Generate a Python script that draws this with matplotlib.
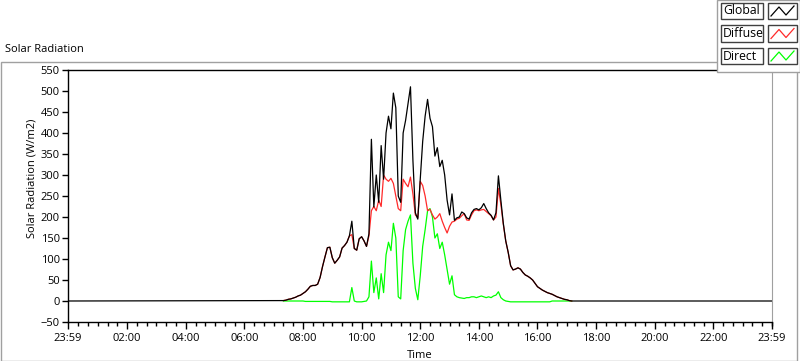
import matplotlib.pyplot as plt
import numpy as np
from matplotlib.patches import Rectangle
from matplotlib.lines import Line2D

# daylight samples, every 5 min from 07:20 to 17:10 (W/m2)
global_rad = ([1, 2, 4, 5, 7, 9, 12, 14] +
              [18, 22, 28, 35, 37, 37, 40, 56, 82, 105, 127, 128] +
              [103, 90, 97, 105, 126, 132, 140, 155, 190, 125, 121, 148] +
              [153, 143, 130, 160, 385, 224, 300, 235, 370, 290, 400, 440] +
              [410, 495, 460, 250, 235, 400, 430, 470, 510, 335, 210, 195] +
              [290, 380, 440, 480, 435, 415, 345, 365, 320, 335, 300, 240] +
              [205, 255, 192, 198, 200, 212, 208, 198, 195, 210, 218, 220] +
              [217, 222, 232, 220, 210, 204, 193, 210, 298, 240, 185, 143] +
              [116, 84, 74, 76, 79, 76, 68, 62, 59, 55, 50, 42] +
              [34, 30, 26, 23, 20, 18, 16, 13, 10, 8, 6, 4] +
              [3, 1, 0])
diffuse_rad = ([1, 2, 4, 5, 7, 9, 12, 14] +
               [18, 22, 28, 35, 37, 37, 40, 56, 82, 105, 127, 128] +
               [103, 90, 97, 105, 126, 132, 140, 155, 158, 125, 121, 148] +
               [153, 143, 130, 155, 215, 225, 215, 240, 225, 300, 290, 285] +
               [292, 280, 250, 220, 215, 290, 280, 272, 295, 255, 205, 198] +
               [285, 275, 250, 215, 218, 205, 195, 200, 208, 190, 175, 162] +
               [178, 188, 190, 195, 197, 203, 208, 193, 192, 205, 215, 217] +
               [215, 217, 218, 213, 208, 203, 193, 200, 268, 230, 183, 143] +
               [116, 84, 74, 76, 79, 76, 68, 62, 59, 55, 50, 42] +
               [34, 30, 26, 23, 20, 18, 16, 13, 10, 8, 6, 4] +
               [3, 1, 0])
direct_rad = ([0, 0, 0, 0, 0, 0, 0, 0] +
              [0, -1, -1, -1, -1, -1, -1, -1, -1, -1, -1, -1] +
              [-2, -2, -2, -2, -2, -2, -2, -2, 32, 0, -2, -2] +
              [-2, -1, 0, 10, 95, 20, 55, 5, 65, 20, 110, 140] +
              [120, 185, 150, 10, 5, 120, 170, 190, 205, 90, 30, 3] +
              [60, 130, 170, 215, 220, 200, 150, 160, 125, 140, 110, 75] +
              [40, 60, 15, 10, 8, 7, 6, 8, 8, 10, 10, 8] +
              [10, 12, 10, 8, 10, 8, 12, 14, 22, 8, 3, 0] +
              [-1, -2, -2, -2, -2, -2, -2, -2, -2, -2, -2, -2] +
              [-2, -2, -2, -2, -2, -2, 0, 0, 0, 0, 0, 0] +
              [0, 0, 0])

t_day = (7 * 60 + 20 + 5 * np.arange(len(global_rad))) / 60.0
t0, t1 = -1 / 60.0, 24 - 1 / 60.0   # 23:59 -> 23:59
xtick_pos = [t0, 2, 4, 6, 8, 10, 12, 14, 16, 18, 20, 22, t1]
xtick_lab = ['23:59', '02:00', '04:00', '06:00', '08:00', '10:00', '12:00',
             '14:00', '16:00', '18:00', '20:00', '22:00', '23:59']

plt.rcParams['font.family'] = ['Open Sans', 'DejaVu Sans']
W, H = 800, 361
fig = plt.figure(figsize=(8, 3.61), dpi=100)

def fx(x):
    return x / W

def fy(y):
    return 1 - y / H

# grey frame around the chart
fig.add_artist(Rectangle((fx(0.5), fy(360.5)), 796.5 / W, 298.5 / H, fill=False,
                         edgecolor='#a0a0a0', lw=1))
fig.text(fx(5), fy(50), 'Solar Radiation', fontsize=8, va='center', ha='left')

ax = fig.add_axes([fx(68), fy(322), (772 - 68) / W, (322 - 70) / H])
ax.plot(t_day, direct_rad, color='#00ff00', lw=0.9, zorder=2)
ax.plot(t_day, diffuse_rad, color='#ff2a2a', lw=0.9, zorder=3)
ax.plot(np.concatenate([[t0], t_day, [t1]]), [0] + global_rad + [0],
        color='black', lw=0.9, zorder=4)

ax.set_xlim(t0, t1)
ax.set_ylim(-50, 550)
ax.set_yticks(np.arange(-50, 551, 50))
ax.set_xticks(xtick_pos)
ax.set_xticklabels(xtick_lab)
ax.set_xticks(np.arange(1 / 3, 24, 1 / 3), minor=True)
ax.tick_params(axis='y', direction='out', length=4, width=1, labelsize=8, pad=2)
ax.tick_params(axis='x', which='major', direction='out', length=5, width=1, labelsize=8, pad=3)
ax.tick_params(axis='x', which='minor', direction='out', length=3, width=1)
for s in ['left', 'top', 'bottom']:
    ax.spines[s].set_color('black')
    ax.spines[s].set_linewidth(1)
ax.spines['right'].set_color('#a0a0a0')
ax.set_xlabel('Time', fontsize=8, labelpad=4)
fig.text(fx(32), fy(178), 'Solar Radiation (W/m2)', fontsize=8, rotation=90,
         va='center', ha='center')

# legend panel (top right)
fig.add_artist(Rectangle((fx(717), fy(72)), 83 / W, 72 / H, facecolor='white',
                         edgecolor='#a0a0a0', lw=1, zorder=10))
names = ['Global', 'Diffuse', 'Direct']
colors = ['black', '#ff2a2a', '#00ff00']
for i, (nm, c) in enumerate(zip(names, colors)):
    top = 3 + i * 22.5
    fig.add_artist(Rectangle((fx(721), fy(top + 16)), 42 / W, 16 / H, facecolor='white',
                             edgecolor='#404040', lw=1, zorder=11))
    fig.text(fx(723), fy(top + 8), nm, fontsize=8.8, va='center', ha='left', zorder=12)
    fig.add_artist(Rectangle((fx(768), fy(top + 16)), 29 / W, 16 / H, facecolor='white',
                             edgecolor='#404040', lw=1, zorder=11))
    fig.add_artist(Line2D([fx(771), fx(779), fx(786), fx(794)],
                          [fy(top + 13), fy(top + 4), fy(top + 12), fy(top + 3)],
                          color=c, lw=0.9, zorder=12))

fig.savefig('out.png', dpi=100)
